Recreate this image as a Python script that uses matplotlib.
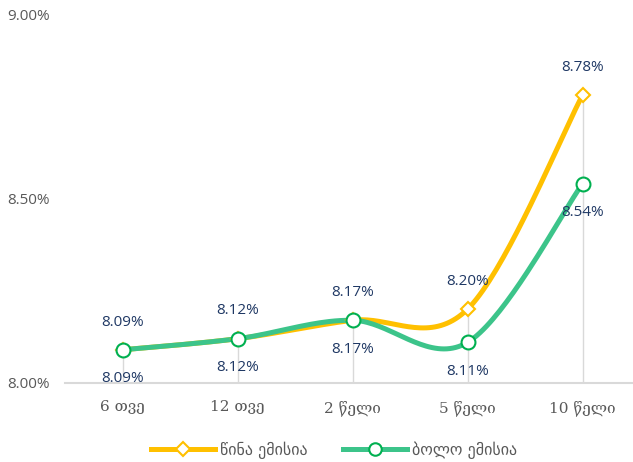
import numpy as np
import matplotlib
matplotlib.use("Agg")
import matplotlib.pyplot as plt
from matplotlib.lines import Line2D

categories = ["6 თვე", "12 თვე", "2 წელი", "5 წელი", "10 წელი"]
prev_issue = [8.09, 8.12, 8.17, 8.20, 8.78]
last_issue = [8.09, 8.12, 8.17, 8.11, 8.54]
series_names = ["წინა ემისია", "ბოლო ემისია"]
y_ticks = [8.00, 8.50, 9.00]

ORANGE = "#FFC000"
GREEN_LINE = "#3CC48A"
GREEN_EDGE = "#00B050"
LABEL = "#1F3864"
GRAY = "#595959"


def smooth(xs, ys, n=40):
    """Excel-style smoothed line (Catmull-Rom Bezier) through the points."""
    P = np.column_stack([xs, ys]).astype(float)
    out = []
    for i in range(len(P) - 1):
        p0 = P[i - 1] if i > 0 else P[i]
        p1 = P[i]
        p2 = P[i + 1]
        p3 = P[i + 2] if i + 2 < len(P) else P[i + 1]
        c1 = p1 + (p2 - p0) / 6.0
        c2 = p2 - (p3 - p1) / 6.0
        t = np.linspace(0, 1, n)[:, None]
        seg = ((1 - t) ** 3) * p1 + 3 * ((1 - t) ** 2) * t * c1 + 3 * (1 - t) * t ** 2 * c2 + t ** 3 * p2
        out.append(seg if i == 0 else seg[1:])
    out = np.vstack(out)
    return out[:, 0], out[:, 1]


fig = plt.figure(figsize=(6.33, 4.62), dpi=100)
ax = fig.add_axes([65 / 633, 79 / 462, 575 / 633, 369 / 462])

x = np.arange(len(categories))
ax.set_xlim(-0.5, len(categories) - 0.5)
ax.set_ylim(8.0, 9.0)

# drop lines
tops = np.maximum(prev_issue, last_issue)
ax.vlines(x, 8.0, tops, color="#D9D9D9", lw=1.0, zorder=1)

sx, sy = smooth(x, prev_issue)
ax.plot(sx, sy, color=ORANGE, lw=3.6, solid_capstyle="round", zorder=3)
ax.plot(x, prev_issue, ls="none", marker="D", ms=7.5, mfc="white", mec=ORANGE, mew=1.5, zorder=5)

sx, sy = smooth(x, last_issue)
ax.plot(sx, sy, color=GREEN_LINE, lw=3.6, solid_capstyle="round", zorder=4)
ax.plot(x, last_issue, ls="none", marker="o", ms=10, mfc="white", mec=GREEN_EDGE, mew=1.5, zorder=6)

for xi, v in zip(x, prev_issue):
    ax.annotate(f"{v:.2f}%", (xi, v), xytext=(0, 20), textcoords="offset points",
                ha="center", va="center", color=LABEL, fontsize=11, family="Open Sans", zorder=7)
for xi, v in zip(x, last_issue):
    ax.annotate(f"{v:.2f}%", (xi, v), xytext=(0, -21), textcoords="offset points",
                ha="center", va="center", color=LABEL, fontsize=11, family="Open Sans", zorder=7)

ax.set_xticks(x)
ax.set_xticklabels(categories, family=["DejaVu Serif", "DejaVu Sans"], fontsize=11, color=GRAY)
ax.set_yticks(y_ticks)
ax.set_yticklabels([f"{t:.2f}%" for t in y_ticks], family="Open Sans", fontsize=11, color=GRAY)
ax.tick_params(axis="both", length=0)
ax.tick_params(axis="x", pad=12)
ax.tick_params(axis="y", pad=11)

for s in ["top", "right", "left"]:
    ax.spines[s].set_visible(False)
ax.spines["bottom"].set_color("#D9D9D9")
ax.spines["bottom"].set_linewidth(1.5)

handles = [
    Line2D([], [], color=ORANGE, lw=3.6, marker="D", ms=7, mfc="white", mec=ORANGE, mew=1.5),
    Line2D([], [], color=GREEN_LINE, lw=3.6, marker="o", ms=9, mfc="white", mec=GREEN_EDGE, mew=1.5),
]
fig.legend(handles, series_names, loc="center", bbox_to_anchor=(334 / 633, 1 - 450 / 462),
           ncol=2, frameon=False, prop={"family": "DejaVu Sans", "size": 11.5},
           labelcolor=GRAY, handlelength=4, columnspacing=2.2, handletextpad=0.3)

fig.savefig("out.png", dpi=100)
